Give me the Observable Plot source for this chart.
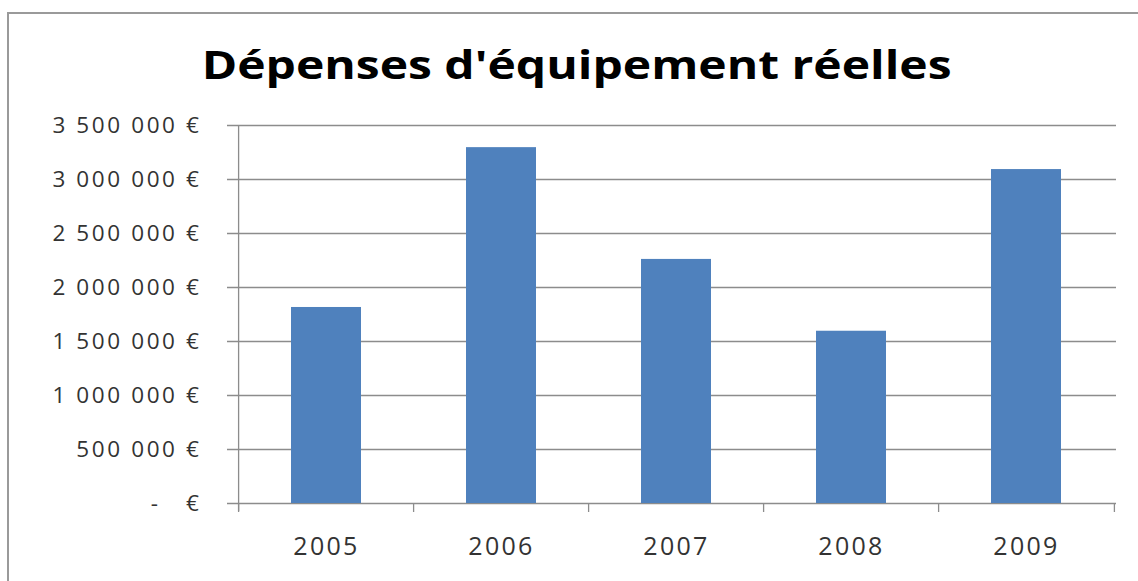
<!DOCTYPE html>
<html>
<head>
<meta charset="utf-8">
<script src="https://cdn.jsdelivr.net/npm/d3@7"></script>
<script src="https://cdn.jsdelivr.net/npm/@observablehq/plot@0.6"></script>
<style>
  html, body { margin: 0; padding: 0; background: #fff; width: 1138px; height: 581px; overflow: hidden; }
  #frame { position: absolute; left: 7px; top: 12px; width: 1140px; height: 580px; border-left: 2px solid #9a9a9a; border-top: 2px solid #9a9a9a; }
  #title { position: absolute; left: 0; width: 1153px; top: 36px; text-align: center; font-family: "Open Sans", sans-serif; font-weight: 700; font-size: 40px; color: #000; white-space: nowrap; transform: scaleX(1.2); transform-origin: 576px 0; }
  #chart { position: absolute; left: 0; top: 100px; }
  #chart g[aria-label="y-axis tick label"] text { letter-spacing: 2.6px; }
  #chart g[aria-label="x-axis tick label"] text { letter-spacing: 2.3px; }
</style>
</head>
<body>
<div id="frame"></div>
<div id="title">Dépenses d'équipement réelles</div>
<div id="chart"></div>
<script>
const years = ["2005", "2006", "2007", "2008", "2009"];
const values = [1815000, 3295000, 2260000, 1595000, 3092000];
const yTicks = [0, 500000, 1000000, 1500000, 2000000, 2500000, 3000000, 3500000];

const data = years.map((year, i) => ({year, value: values[i]}));

const fr = d3.formatLocale({thousands: "\u00a0", grouping: [3], decimal: ",", currency: ["", "\u00a0€"]});
const fmt = fr.format("$,.0f");
const yFormat = d => d === 0 ? "-\u00a0\u00a0\u00a0€" : fmt(d);

const W = 1138, H = 481, ML = 237, MR = 22, MT = 25, MB = 78;
const halfStep = (W - ML - MR) / years.length / 2;

const chart = Plot.plot({
  width: W,
  height: H,
  marginLeft: ML,
  marginRight: MR,
  marginTop: MT,
  marginBottom: MB,
  style: {fontFamily: "'Open Sans', sans-serif", background: "transparent", overflow: "visible"},
  x: {domain: years, paddingInner: 0.6, paddingOuter: 0.3, label: null},
  y: {domain: [0, 3500000], label: null},
  marks: [
    Plot.ruleY(yTicks, {y: d => d, stroke: "#8c8c8c", strokeWidth: 1.3, insetLeft: -10}),
    Plot.barY(data, {x: "year", y: "value", fill: "#4F81BD"}),
    Plot.ruleX(years, {x: d => d, dx: -halfStep, stroke: "#8c8c8c", strokeWidth: 1.3, insetTop: H - MT - MB, insetBottom: -9}),
    Plot.ruleX([years[years.length - 1]], {x: d => d, dx: halfStep, stroke: "#8c8c8c", strokeWidth: 1.3, insetTop: H - MT - MB, insetBottom: -9}),
    Plot.ruleX([years[0]], {x: d => d, dx: -halfStep, stroke: "#8c8c8c", strokeWidth: 1.3, insetBottom: -8}),
    Plot.axisY({ticks: yTicks, tickFormat: yFormat, tickSize: 0, tickPadding: 36, fontSize: 22.5, fill: "#333"}),
    Plot.axisX({tickSize: 0, tickPadding: 34, fontSize: 25, fill: "#333"})
  ]
});
document.getElementById("chart").appendChild(chart);
</script>
</body>
</html>
